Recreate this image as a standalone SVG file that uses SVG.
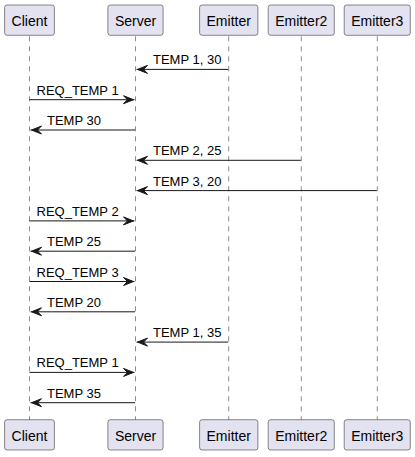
<svg xmlns="http://www.w3.org/2000/svg" width="415" height="457" viewBox="0 0 415 457">
<style>
.bg{fill:#FFFFFF}
.life{stroke:#181818;stroke-width:0.5;stroke-dasharray:5,5;fill:none}
.box{fill:#E2E2F0;stroke:#181818;stroke-width:0.5}
.pt{font-family:"Liberation Sans",Arial,sans-serif;font-size:14px;fill:#000000;text-anchor:middle}
.msg{stroke:#181818;stroke-width:1;fill:none}
.head{fill:#181818;stroke:#181818;stroke-width:1}
.ml{font-family:"Liberation Sans",Arial,sans-serif;font-size:13px;fill:#000000}
</style>
<rect class="bg" x="0" y="0" width="415" height="457"/>
<g id="lifelines">
<line class="life" x1="29.5" y1="36.3" x2="29.5" y2="419.7"/>
<line class="life" x1="135.5" y1="36.3" x2="135.5" y2="419.7"/>
<line class="life" x1="228.7" y1="36.3" x2="228.7" y2="419.7"/>
<line class="life" x1="301.3" y1="36.3" x2="301.3" y2="419.7"/>
<line class="life" x1="377.3" y1="36.3" x2="377.3" y2="419.7"/>
</g>
<g id="Client">
<rect class="box" x="4.6" y="5" width="49.8" height="30.3" rx="2.5"/>
<text class="pt" x="29.5" y="26">Client</text>
<rect class="box" x="4.6" y="419.7" width="49.8" height="30.3" rx="2.5"/>
<text class="pt" x="29.5" y="440.7">Client</text>
</g>
<g id="Server">
<rect class="box" x="107.9" y="5" width="55.2" height="30.3" rx="2.5"/>
<text class="pt" x="135.5" y="26">Server</text>
<rect class="box" x="107.9" y="419.7" width="55.2" height="30.3" rx="2.5"/>
<text class="pt" x="135.5" y="440.7">Server</text>
</g>
<g id="Emitter">
<rect class="box" x="199.6" y="5" width="58.3" height="30.3" rx="2.5"/>
<text class="pt" x="228.7" y="26">Emitter</text>
<rect class="box" x="199.6" y="419.7" width="58.3" height="30.3" rx="2.5"/>
<text class="pt" x="228.7" y="440.7">Emitter</text>
</g>
<g id="Emitter2">
<rect class="box" x="268.2" y="5" width="66.1" height="30.3" rx="2.5"/>
<text class="pt" x="301.3" y="26">Emitter2</text>
<rect class="box" x="268.2" y="419.7" width="66.1" height="30.3" rx="2.5"/>
<text class="pt" x="301.3" y="440.7">Emitter2</text>
</g>
<g id="Emitter3">
<rect class="box" x="344.2" y="5" width="66.1" height="30.3" rx="2.5"/>
<text class="pt" x="377.3" y="26">Emitter3</text>
<rect class="box" x="344.2" y="419.7" width="66.1" height="30.3" rx="2.5"/>
<text class="pt" x="377.3" y="440.7">Emitter3</text>
</g>
<g id="connectors">
<!-- 1 Emitter -> Server -->
<line class="msg" x1="136.5" y1="69.4" x2="228.2" y2="69.4"/>
<polygon class="head" points="147.5,65.4 137.5,69.4 147.5,73.4 143.5,69.4"/>
<text class="ml" x="153" y="64.4">TEMP 1, 30</text>
<!-- 2 Client -> Server -->
<line class="msg" x1="29.5" y1="99.7" x2="134.5" y2="99.7"/>
<polygon class="head" points="123.5,95.7 133.5,99.7 123.5,103.7 127.5,99.7"/>
<text class="ml" x="36.5" y="94.7">REQ_TEMP 1</text>
<!-- 3 Server -> Client -->
<line class="msg" x1="30.5" y1="130" x2="135" y2="130"/>
<polygon class="head" points="41.5,126 31.5,130 41.5,134 37.5,130"/>
<text class="ml" x="47" y="125">TEMP 30</text>
<!-- 4 Emitter2 -> Server -->
<line class="msg" x1="136.5" y1="160.3" x2="300.8" y2="160.3"/>
<polygon class="head" points="147.5,156.3 137.5,160.3 147.5,164.3 143.5,160.3"/>
<text class="ml" x="153" y="155.3">TEMP 2, 25</text>
<!-- 5 Emitter3 -> Server -->
<line class="msg" x1="136.5" y1="190.6" x2="376.8" y2="190.6"/>
<polygon class="head" points="147.5,186.6 137.5,190.6 147.5,194.6 143.5,190.6"/>
<text class="ml" x="153" y="185.6">TEMP 3, 20</text>
<!-- 6 Client -> Server -->
<line class="msg" x1="29.5" y1="220.9" x2="134.5" y2="220.9"/>
<polygon class="head" points="123.5,216.9 133.5,220.9 123.5,224.9 127.5,220.9"/>
<text class="ml" x="36.5" y="215.9">REQ_TEMP 2</text>
<!-- 7 Server -> Client -->
<line class="msg" x1="30.5" y1="251.2" x2="135" y2="251.2"/>
<polygon class="head" points="41.5,247.2 31.5,251.2 41.5,255.2 37.5,251.2"/>
<text class="ml" x="47" y="246.2">TEMP 25</text>
<!-- 8 Client -> Server -->
<line class="msg" x1="29.5" y1="281.5" x2="134.5" y2="281.5"/>
<polygon class="head" points="123.5,277.5 133.5,281.5 123.5,285.5 127.5,281.5"/>
<text class="ml" x="36.5" y="276.5">REQ_TEMP 3</text>
<!-- 9 Server -> Client -->
<line class="msg" x1="30.5" y1="311.8" x2="135" y2="311.8"/>
<polygon class="head" points="41.5,307.8 31.5,311.8 41.5,315.8 37.5,311.8"/>
<text class="ml" x="47" y="306.8">TEMP 20</text>
<!-- 10 Emitter -> Server -->
<line class="msg" x1="136.5" y1="342.1" x2="228.2" y2="342.1"/>
<polygon class="head" points="147.5,338.1 137.5,342.1 147.5,346.1 143.5,342.1"/>
<text class="ml" x="153" y="337.1">TEMP 1, 35</text>
<!-- 11 Client -> Server -->
<line class="msg" x1="29.5" y1="372.4" x2="134.5" y2="372.4"/>
<polygon class="head" points="123.5,368.4 133.5,372.4 123.5,376.4 127.5,372.4"/>
<text class="ml" x="36.5" y="367.4">REQ_TEMP 1</text>
<!-- 12 Server -> Client -->
<line class="msg" x1="30.5" y1="402.7" x2="135" y2="402.7"/>
<polygon class="head" points="41.5,398.7 31.5,402.7 41.5,406.7 37.5,402.7"/>
<text class="ml" x="47" y="397.7">TEMP 35</text>
</g>
</svg>
